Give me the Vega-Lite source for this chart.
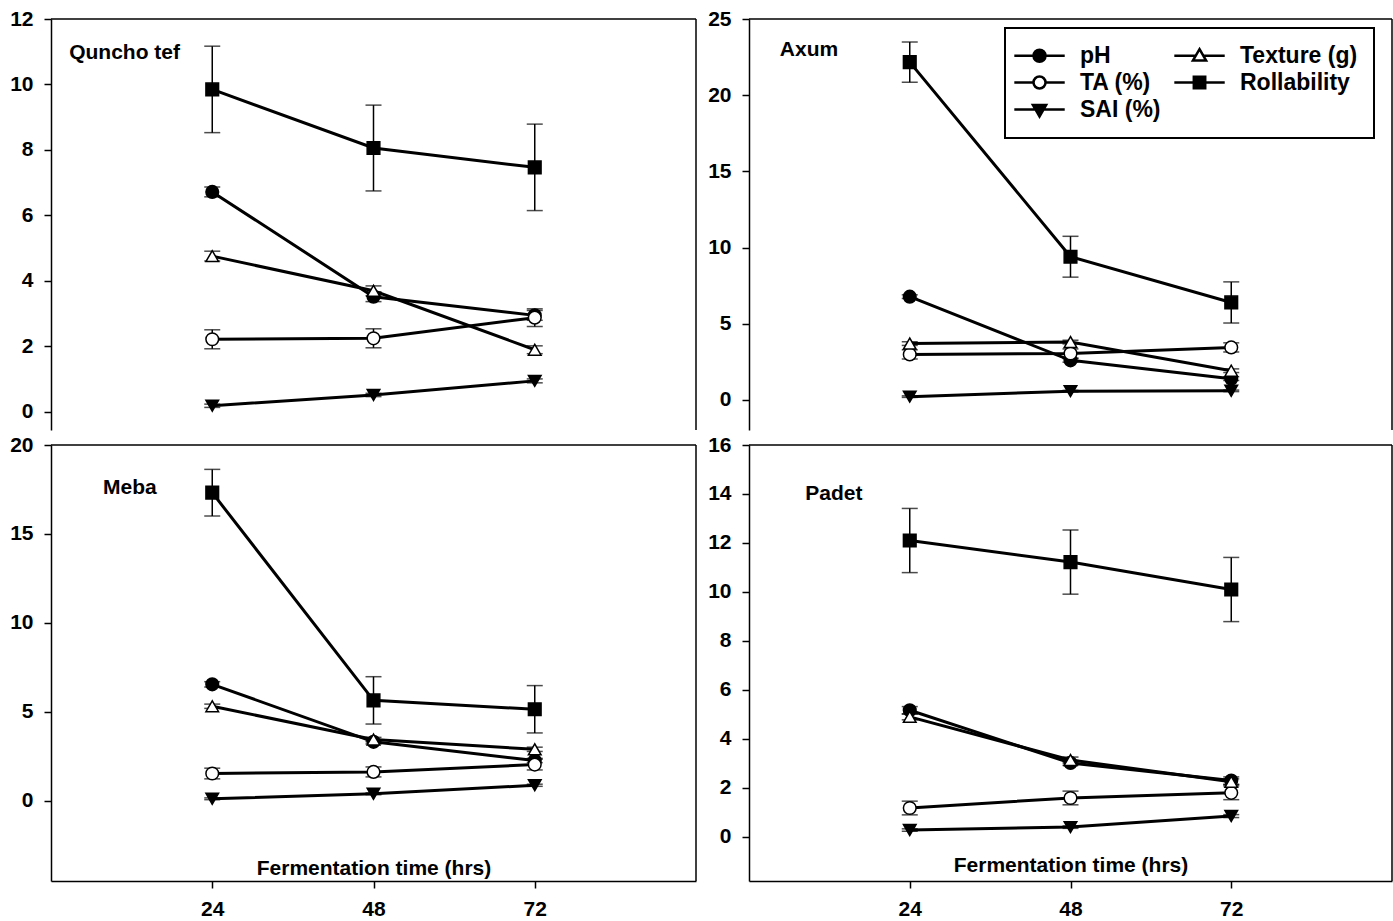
{
  "$schema": "https://vega.github.io/schema/vega-lite/v6.json",
  "padding": {"left": 9, "top": 8, "right": 0, "bottom": 0},
  "background": "white",
  "datasets": {
    "obs": [
      {"panel": "Q", "time": 24, "param": "pH", "mean": 6.72, "err": 0.15},
      {"panel": "Q", "time": 48, "param": "pH", "mean": 3.52, "err": 0.15},
      {"panel": "Q", "time": 72, "param": "pH", "mean": 2.95, "err": 0.15},
      {"panel": "Q", "time": 24, "param": "TA (%)", "mean": 2.22, "err": 0.29},
      {"panel": "Q", "time": 48, "param": "TA (%)", "mean": 2.25, "err": 0.29},
      {"panel": "Q", "time": 72, "param": "TA (%)", "mean": 2.88, "err": 0.27},
      {"panel": "Q", "time": 24, "param": "SAI (%)", "mean": 0.19, "err": 0.05},
      {"panel": "Q", "time": 48, "param": "SAI (%)", "mean": 0.52, "err": 0.05},
      {"panel": "Q", "time": 72, "param": "SAI (%)", "mean": 0.95, "err": 0.06},
      {"panel": "Q", "time": 24, "param": "Texture (g)", "mean": 4.76, "err": 0.15},
      {"panel": "Q", "time": 48, "param": "Texture (g)", "mean": 3.7, "err": 0.15},
      {"panel": "Q", "time": 72, "param": "Texture (g)", "mean": 1.9, "err": 0.12},
      {"panel": "Q", "time": 24, "param": "Rollability", "mean": 9.85, "err": 1.32},
      {"panel": "Q", "time": 48, "param": "Rollability", "mean": 8.06, "err": 1.31},
      {"panel": "Q", "time": 72, "param": "Rollability", "mean": 7.47, "err": 1.32},
      {"panel": "A", "time": 24, "param": "pH", "mean": 6.78, "err": 0.12},
      {"panel": "A", "time": 48, "param": "pH", "mean": 2.6, "err": 0.12},
      {"panel": "A", "time": 72, "param": "pH", "mean": 1.4, "err": 0.12},
      {"panel": "A", "time": 24, "param": "TA (%)", "mean": 2.99, "err": 0.3},
      {"panel": "A", "time": 48, "param": "TA (%)", "mean": 3.05, "err": 0.3},
      {"panel": "A", "time": 72, "param": "TA (%)", "mean": 3.45, "err": 0.3},
      {"panel": "A", "time": 24, "param": "SAI (%)", "mean": 0.22, "err": 0.05},
      {"panel": "A", "time": 48, "param": "SAI (%)", "mean": 0.58, "err": 0.05},
      {"panel": "A", "time": 72, "param": "SAI (%)", "mean": 0.6, "err": 0.05},
      {"panel": "A", "time": 24, "param": "Texture (g)", "mean": 3.7, "err": 0.12},
      {"panel": "A", "time": 48, "param": "Texture (g)", "mean": 3.8, "err": 0.12},
      {"panel": "A", "time": 72, "param": "Texture (g)", "mean": 1.92, "err": 0.12},
      {"panel": "A", "time": 24, "param": "Rollability", "mean": 22.17, "err": 1.32},
      {"panel": "A", "time": 48, "param": "Rollability", "mean": 9.4, "err": 1.34},
      {"panel": "A", "time": 72, "param": "Rollability", "mean": 6.4, "err": 1.35},
      {"panel": "M", "time": 24, "param": "pH", "mean": 6.55, "err": 0.15},
      {"panel": "M", "time": 48, "param": "pH", "mean": 3.32, "err": 0.12},
      {"panel": "M", "time": 72, "param": "pH", "mean": 2.27, "err": 0.12},
      {"panel": "M", "time": 24, "param": "TA (%)", "mean": 1.54, "err": 0.3},
      {"panel": "M", "time": 48, "param": "TA (%)", "mean": 1.63, "err": 0.28},
      {"panel": "M", "time": 72, "param": "TA (%)", "mean": 2.04, "err": 0.3},
      {"panel": "M", "time": 24, "param": "SAI (%)", "mean": 0.12, "err": 0.05},
      {"panel": "M", "time": 48, "param": "SAI (%)", "mean": 0.4, "err": 0.05},
      {"panel": "M", "time": 72, "param": "SAI (%)", "mean": 0.88, "err": 0.06},
      {"panel": "M", "time": 24, "param": "Texture (g)", "mean": 5.32, "err": 0.12},
      {"panel": "M", "time": 48, "param": "Texture (g)", "mean": 3.45, "err": 0.12},
      {"panel": "M", "time": 72, "param": "Texture (g)", "mean": 2.9, "err": 0.12},
      {"panel": "M", "time": 24, "param": "Rollability", "mean": 17.32, "err": 1.31},
      {"panel": "M", "time": 48, "param": "Rollability", "mean": 5.65, "err": 1.33},
      {"panel": "M", "time": 72, "param": "Rollability", "mean": 5.15, "err": 1.33},
      {"panel": "P", "time": 24, "param": "pH", "mean": 5.17, "err": 0.15},
      {"panel": "P", "time": 48, "param": "pH", "mean": 3.02, "err": 0.1},
      {"panel": "P", "time": 72, "param": "pH", "mean": 2.3, "err": 0.15},
      {"panel": "P", "time": 24, "param": "TA (%)", "mean": 1.18, "err": 0.28},
      {"panel": "P", "time": 48, "param": "TA (%)", "mean": 1.59, "err": 0.28},
      {"panel": "P", "time": 72, "param": "TA (%)", "mean": 1.8, "err": 0.28},
      {"panel": "P", "time": 24, "param": "SAI (%)", "mean": 0.28, "err": 0.05},
      {"panel": "P", "time": 48, "param": "SAI (%)", "mean": 0.4, "err": 0.05},
      {"panel": "P", "time": 72, "param": "SAI (%)", "mean": 0.85, "err": 0.06},
      {"panel": "P", "time": 24, "param": "Texture (g)", "mean": 4.9, "err": 0.12},
      {"panel": "P", "time": 48, "param": "Texture (g)", "mean": 3.14, "err": 0.12},
      {"panel": "P", "time": 72, "param": "Texture (g)", "mean": 2.25, "err": 0.12},
      {"panel": "P", "time": 24, "param": "Rollability", "mean": 12.1, "err": 1.31},
      {"panel": "P", "time": 48, "param": "Rollability", "mean": 11.22, "err": 1.31},
      {"panel": "P", "time": 72, "param": "Rollability", "mean": 10.1, "err": 1.31}
    ],
    "panels": [
      {"panel": "Q", "name": "Quncho tef"},
      {"panel": "A", "name": "Axum"},
      {"panel": "M", "name": "Meba"},
      {"panel": "P", "name": "Padet"}
    ]
  },
  "columns": 2,
  "spacing": {"row": 3, "column": 10},
  "resolve": {"scale": {"shape": "independent", "fill": "independent", "stroke": "independent"}, "legend": {"shape": "independent", "fill": "independent", "stroke": "independent"}},
  "concat": [
    {
      "width": 645, "height": 411,
      "layer": [
        {"data": {"name": "obs"}, "transform": [{"filter": "datum.panel === 'Q'"}],
         "mark": {"type": "line", "color": "black", "strokeWidth": 3},
         "encoding": {
           "x": {"field": "time", "type": "quantitative", "scale": {"domain": [0, 96], "nice": false, "zero": false}, "axis": null},
           "y": {"field": "mean", "type": "quantitative", "scale": {"domain": [-0.55, 12], "nice": false, "zero": false}, "axis": {"values": [0, 2, 4, 6, 8, 10, 12], "title": null}},
           "detail": {"field": "param"}}},
        {"data": {"name": "obs"}, "transform": [{"filter": "datum.panel === 'Q'"}],
         "mark": {"type": "errorbar", "color": "black", "thickness": 1.5, "ticks": {"size": 16, "thickness": 1.5}},
         "encoding": {
           "x": {"field": "time", "type": "quantitative"},
           "y": {"field": "mean", "type": "quantitative"},
           "yError": {"field": "err"}}},
        {"data": {"name": "obs"}, "transform": [{"filter": "datum.panel === 'Q'"}],
         "mark": {"type": "point", "stroke": "black", "strokeWidth": 1.5, "size": 160, "opacity": 1},
         "encoding": {
           "x": {"field": "time", "type": "quantitative"},
           "y": {"field": "mean", "type": "quantitative"},
           "shape": {"field": "param", "scale": {"domain": ["pH", "TA (%)", "SAI (%)", "Texture (g)", "Rollability"], "range": ["circle", "circle", "triangle-down", "triangle-up", "square"]}, "legend": null},
           "fill": {"field": "param", "scale": {"domain": ["pH", "TA (%)", "SAI (%)", "Texture (g)", "Rollability"], "range": ["black", "white", "black", "white", "black"]}, "legend": null}}},
        {"data": {"name": "panels"}, "transform": [{"filter": "datum.panel === 'Q'"}],
         "mark": {"type": "rule", "color": "black", "strokeWidth": 1.5},
         "encoding": {"y": {"datum": 12}}},
        {"data": {"name": "panels"}, "transform": [{"filter": "datum.panel === 'Q'"}],
         "mark": {"type": "rule", "color": "black", "strokeWidth": 1.5},
         "encoding": {"x": {"datum": 96}}},
        {"data": {"name": "panels"}, "transform": [{"filter": "datum.panel === 'Q'"}],
         "mark": {"type": "text", "align": "left", "baseline": "middle", "font": "Liberation Sans", "fontSize": 21, "fontWeight": "bold", "color": "black"},
         "encoding": {"x": {"datum": 2.7}, "y": {"datum": 10.96}, "text": {"field": "name"}}}
      ]
    },
    {
      "width": 643, "height": 411,
      "resolve": {"scale": {"shape": "independent", "fill": "independent", "stroke": "independent"}},
      "layer": [
        {"data": {"name": "obs"}, "transform": [{"filter": "datum.panel === 'A'"}],
         "mark": {"type": "line", "color": "black", "strokeWidth": 3},
         "encoding": {
           "x": {"field": "time", "type": "quantitative", "scale": {"domain": [0, 96], "nice": false, "zero": false}, "axis": null},
           "y": {"field": "mean", "type": "quantitative", "scale": {"domain": [-1.97, 25], "nice": false, "zero": false}, "axis": {"values": [0, 5, 10, 15, 20, 25], "title": null}},
           "detail": {"field": "param"}}},
        {"data": {"name": "obs"}, "transform": [{"filter": "datum.panel === 'A'"}],
         "mark": {"type": "errorbar", "color": "black", "thickness": 1.5, "ticks": {"size": 16, "thickness": 1.5}},
         "encoding": {
           "x": {"field": "time", "type": "quantitative"},
           "y": {"field": "mean", "type": "quantitative"},
           "yError": {"field": "err"}}},
        {"data": {"name": "obs"}, "transform": [{"filter": "datum.panel === 'A'"}],
         "mark": {"type": "point", "stroke": "black", "strokeWidth": 1.5, "size": 160, "opacity": 1},
         "encoding": {
           "x": {"field": "time", "type": "quantitative"},
           "y": {"field": "mean", "type": "quantitative"},
           "shape": {"field": "param", "scale": {"domain": ["pH", "TA (%)", "SAI (%)", "Texture (g)", "Rollability"], "range": ["circle", "circle", "triangle-down", "triangle-up", "square"]}, "legend": null},
           "fill": {"field": "param", "scale": {"domain": ["pH", "TA (%)", "SAI (%)", "Texture (g)", "Rollability"], "range": ["black", "white", "black", "white", "black"]}, "legend": null}}},
        {"data": {"name": "obs"}, "transform": [{"filter": "datum.panel === 'A'"}],
         "mark": {"type": "point", "filled": true, "opacity": 0},
         "encoding": {
           "x": {"field": "time", "type": "quantitative"},
           "y": {"field": "mean", "type": "quantitative"},
           "shape": {"field": "param",
             "scale": {"domain": ["pH", "TA (%)", "SAI (%)", "Texture (g)", "Rollability"],
                       "range": ["M-3.03,0H5.37M2.17,0A1,1,0,1,1,0.17,0A1,1,0,1,1,2.17,0Z",
                                 "M-3.03,0H0.17M2.17,0H5.37M2.17,0A1,1,0,1,1,0.17,0A1,1,0,1,1,2.17,0Z",
                                 "M-3.03,0H5.37M0.07,-0.75H2.27L1.17,1.15Z",
                                 "M-3.03,0H0.55M1.79,0H5.37M1.17,-1.1L2.27,0.8L0.07,0.8Z",
                                 "M-3.03,0H5.37M0.22,-0.95H2.12V0.95H0.22Z"]},
             "legend": {"orient": "none", "legendX": 256, "legendY": 9, "columns": 2, "title": null, "strokeColor": "black", "padding": 16, "labelFont": "Liberation Sans", "labelFontSize": 23, "labelFontWeight": "bold", "labelColor": "black", "symbolSize": 144, "symbolStrokeWidth": 2.5, "symbolOpacity": 1, "labelOffset": 36, "rowPadding": 3, "columnPadding": 8}},
           "fill": {"field": "param",
             "scale": {"domain": ["pH", "TA (%)", "SAI (%)", "Texture (g)", "Rollability"], "range": ["black", "white", "black", "white", "black"]},
             "legend": {"orient": "none", "legendX": 256, "legendY": 9, "columns": 2, "title": null, "strokeColor": "black", "padding": 16, "labelFont": "Liberation Sans", "labelFontSize": 23, "labelFontWeight": "bold", "labelColor": "black", "symbolSize": 144, "symbolStrokeWidth": 2.5, "symbolOpacity": 1, "labelOffset": 36, "rowPadding": 3, "columnPadding": 8}},
           "stroke": {"field": "param",
             "scale": {"domain": ["pH", "TA (%)", "SAI (%)", "Texture (g)", "Rollability"], "range": ["black", "black", "black", "black", "black"]},
             "legend": {"orient": "none", "legendX": 256, "legendY": 9, "columns": 2, "title": null, "strokeColor": "black", "padding": 16, "labelFont": "Liberation Sans", "labelFontSize": 23, "labelFontWeight": "bold", "labelColor": "black", "symbolSize": 144, "symbolStrokeWidth": 2.5, "symbolOpacity": 1, "labelOffset": 36, "rowPadding": 3, "columnPadding": 8}}}},
        {"data": {"name": "panels"}, "transform": [{"filter": "datum.panel === 'A'"}],
         "mark": {"type": "rule", "color": "black", "strokeWidth": 1.5},
         "encoding": {"y": {"datum": 25}}},
        {"data": {"name": "panels"}, "transform": [{"filter": "datum.panel === 'A'"}],
         "mark": {"type": "rule", "color": "black", "strokeWidth": 1.5},
         "encoding": {"x": {"datum": 96}}},
        {"data": {"name": "panels"}, "transform": [{"filter": "datum.panel === 'A'"}],
         "mark": {"type": "text", "align": "left", "baseline": "middle", "font": "Liberation Sans", "fontSize": 21, "fontWeight": "bold", "color": "black"},
         "encoding": {"x": {"datum": 4.6}, "y": {"datum": 22.97}, "text": {"field": "name"}}}
      ]
    },
    {
      "width": 645, "height": 436,
      "layer": [
        {"data": {"name": "obs"}, "transform": [{"filter": "datum.panel === 'M'"}],
         "mark": {"type": "line", "color": "black", "strokeWidth": 3},
         "encoding": {
           "x": {"field": "time", "type": "quantitative", "scale": {"domain": [0, 96], "nice": false, "zero": false}, "axis": {"values": [24, 48, 72], "title": "Fermentation time (hrs)", "titleY": -7, "titleBaseline": "alphabetic"}},
           "y": {"field": "mean", "type": "quantitative", "scale": {"domain": [-4.5, 20], "nice": false, "zero": false}, "axis": {"values": [0, 5, 10, 15, 20], "title": null}},
           "detail": {"field": "param"}}},
        {"data": {"name": "obs"}, "transform": [{"filter": "datum.panel === 'M'"}],
         "mark": {"type": "errorbar", "color": "black", "thickness": 1.5, "ticks": {"size": 16, "thickness": 1.5}},
         "encoding": {
           "x": {"field": "time", "type": "quantitative"},
           "y": {"field": "mean", "type": "quantitative"},
           "yError": {"field": "err"}}},
        {"data": {"name": "obs"}, "transform": [{"filter": "datum.panel === 'M'"}],
         "mark": {"type": "point", "stroke": "black", "strokeWidth": 1.5, "size": 160, "opacity": 1},
         "encoding": {
           "x": {"field": "time", "type": "quantitative"},
           "y": {"field": "mean", "type": "quantitative"},
           "shape": {"field": "param", "scale": {"domain": ["pH", "TA (%)", "SAI (%)", "Texture (g)", "Rollability"], "range": ["circle", "circle", "triangle-down", "triangle-up", "square"]}, "legend": null},
           "fill": {"field": "param", "scale": {"domain": ["pH", "TA (%)", "SAI (%)", "Texture (g)", "Rollability"], "range": ["black", "white", "black", "white", "black"]}, "legend": null}}},
        {"data": {"name": "panels"}, "transform": [{"filter": "datum.panel === 'M'"}],
         "mark": {"type": "rule", "color": "black", "strokeWidth": 1.5},
         "encoding": {"y": {"datum": 20}}},
        {"data": {"name": "panels"}, "transform": [{"filter": "datum.panel === 'M'"}],
         "mark": {"type": "rule", "color": "black", "strokeWidth": 1.5},
         "encoding": {"x": {"datum": 96}}},
        {"data": {"name": "panels"}, "transform": [{"filter": "datum.panel === 'M'"}],
         "mark": {"type": "text", "align": "left", "baseline": "middle", "font": "Liberation Sans", "fontSize": 21, "fontWeight": "bold", "color": "black"},
         "encoding": {"x": {"datum": 7.75}, "y": {"datum": 17.58}, "text": {"field": "name"}}}
      ]
    },
    {
      "width": 643, "height": 436,
      "layer": [
        {"data": {"name": "obs"}, "transform": [{"filter": "datum.panel === 'P'"}],
         "mark": {"type": "line", "color": "black", "strokeWidth": 3},
         "encoding": {
           "x": {"field": "time", "type": "quantitative", "scale": {"domain": [0, 96], "nice": false, "zero": false}, "axis": {"values": [24, 48, 72], "title": "Fermentation time (hrs)", "titleY": -10, "titleBaseline": "alphabetic"}},
           "y": {"field": "mean", "type": "quantitative", "scale": {"domain": [-1.8, 16], "nice": false, "zero": false}, "axis": {"values": [0, 2, 4, 6, 8, 10, 12, 14, 16], "title": null}},
           "detail": {"field": "param"}}},
        {"data": {"name": "obs"}, "transform": [{"filter": "datum.panel === 'P'"}],
         "mark": {"type": "errorbar", "color": "black", "thickness": 1.5, "ticks": {"size": 16, "thickness": 1.5}},
         "encoding": {
           "x": {"field": "time", "type": "quantitative"},
           "y": {"field": "mean", "type": "quantitative"},
           "yError": {"field": "err"}}},
        {"data": {"name": "obs"}, "transform": [{"filter": "datum.panel === 'P'"}],
         "mark": {"type": "point", "stroke": "black", "strokeWidth": 1.5, "size": 160, "opacity": 1},
         "encoding": {
           "x": {"field": "time", "type": "quantitative"},
           "y": {"field": "mean", "type": "quantitative"},
           "shape": {"field": "param", "scale": {"domain": ["pH", "TA (%)", "SAI (%)", "Texture (g)", "Rollability"], "range": ["circle", "circle", "triangle-down", "triangle-up", "square"]}, "legend": null},
           "fill": {"field": "param", "scale": {"domain": ["pH", "TA (%)", "SAI (%)", "Texture (g)", "Rollability"], "range": ["black", "white", "black", "white", "black"]}, "legend": null}}},
        {"data": {"name": "panels"}, "transform": [{"filter": "datum.panel === 'P'"}],
         "mark": {"type": "rule", "color": "black", "strokeWidth": 1.5},
         "encoding": {"y": {"datum": 16}}},
        {"data": {"name": "panels"}, "transform": [{"filter": "datum.panel === 'P'"}],
         "mark": {"type": "rule", "color": "black", "strokeWidth": 1.5},
         "encoding": {"x": {"datum": 96}}},
        {"data": {"name": "panels"}, "transform": [{"filter": "datum.panel === 'P'"}],
         "mark": {"type": "text", "align": "left", "baseline": "middle", "font": "Liberation Sans", "fontSize": 21, "fontWeight": "bold", "color": "black"},
         "encoding": {"x": {"datum": 8.4}, "y": {"datum": 14.0}, "text": {"field": "name"}}}
      ]
    }
  ],
  "config": {
    "view": {"stroke": null},
    "font": "Liberation Sans",
    "axis": {"domainColor": "black", "domainWidth": 1.5, "tickColor": "black", "tickWidth": 1.5, "tickSize": 7, "labelFont": "Liberation Sans", "labelFontSize": 21, "labelFontWeight": "bold", "labelColor": "black", "labelPadding": 11, "titleFont": "Liberation Sans", "titleFontSize": 21, "titleFontWeight": "bold", "titleColor": "black", "grid": false},
    "axisX": {"labelPadding": 10},
    "legend": {"strokeWidth": 2}
  }
}
